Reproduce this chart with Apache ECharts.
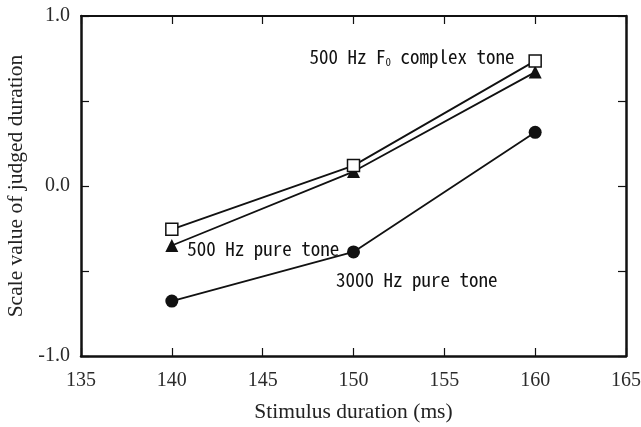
<!DOCTYPE html>
<html>
<head>
<meta charset="utf-8">
<script src="https://cdn.jsdelivr.net/npm/echarts@6/dist/echarts.min.js"></script>
<style>html,body{margin:0;padding:0;background:#fff}#c{width:641px;height:427px}</style>
</head>
<body>
<div id="c"></div>
<script>
const durations = [140, 150, 160];
const complexTone500 = [-0.255, 0.12, 0.736];
const pureTone500 = [-0.35, 0.085, 0.67];
const pureTone3000 = [-0.677, -0.388, 0.316];
const xTicks = [135, 140, 145, 150, 155, 160, 165];
const yTickLabels = ['-1.0', '0.0', '1.0'];

const serif = "'Liberation Serif', 'Times New Roman', serif";
const mono = "'Noto Sans Mono CJK JP', 'DejaVu Sans Mono', monospace";
const ink = '#111';

function pairs(vals, labelIdx, labelCfg) {
  return durations.map((d, i) => {
    const item = { value: [d, vals[i]] };
    if (i === labelIdx) item.label = Object.assign({ show: true }, labelCfg);
    return item;
  });
}

const labelBase = { color: ink, fontFamily: mono, fontSize: 19 };

const chart = echarts.init(document.getElementById('c'), null, { renderer: 'canvas' });
chart.setOption({
  animation: false,
  backgroundColor: '#fff',
  grid: { left: 81, right: 15, top: 16, bottom: 71, containLabel: false, outerBoundsMode: 'none' },
  xAxis: [
    {
      type: 'value', min: 135, max: 165, interval: 5, position: 'bottom',
      name: 'Stimulus duration (ms)', nameLocation: 'middle', nameGap: 45,
      nameTextStyle: { fontFamily: serif, fontSize: 21.5, color: '#222' },
      axisLine: { show: true, onZero: false, lineStyle: { color: ink, width: 2.5 } },
      axisTick: { show: true, inside: true, length: 8, lineStyle: { color: ink, width: 1.2 } },
      axisLabel: { fontFamily: serif, fontSize: 20, color: '#2a2a2a', margin: 15,
        formatter: v => xTicks.includes(v) ? String(v) : '' },
      splitLine: { show: false }
    },
    {
      type: 'value', min: 135, max: 165, interval: 5, position: 'top',
      axisLine: { show: true, onZero: false, lineStyle: { color: ink, width: 2 } },
      axisTick: { show: true, inside: true, length: 8, lineStyle: { color: ink, width: 1.2 } },
      axisLabel: { show: false }, splitLine: { show: false }
    }
  ],
  yAxis: [
    {
      type: 'value', min: -1, max: 1, interval: 0.5, position: 'left',
      name: 'Scale value of judged duration', nameLocation: 'middle', nameGap: 46,
      nameTextStyle: { fontFamily: serif, fontSize: 21.5, color: '#222' },
      axisLine: { show: true, onZero: false, lineStyle: { color: ink, width: 2.5 } },
      axisTick: { show: true, inside: true, length: 8, lineStyle: { color: ink, width: 1.2 } },
      axisLabel: { fontFamily: serif, fontSize: 20, color: '#2a2a2a', margin: 11,
        formatter: v => { const s = v.toFixed(1); return yTickLabels.includes(s) ? s : ''; } },
      splitLine: { show: false }
    },
    {
      type: 'value', min: -1, max: 1, interval: 0.5, position: 'right',
      axisLine: { show: true, onZero: false, lineStyle: { color: ink, width: 2.5 } },
      axisTick: { show: true, inside: true, length: 8, lineStyle: { color: ink, width: 1.2 } },
      axisLabel: { show: false }, splitLine: { show: false }
    }
  ],
  series: [
    {
      name: '3000 Hz pure tone', type: 'line', z: 2,
      data: pairs(pureTone3000, 1, Object.assign({}, labelBase, {
        position: [-11, 34], align: 'left', verticalAlign: 'middle',
        formatter: '3000 Hz pure tone' })),
      symbol: 'circle', symbolSize: 13,
      lineStyle: { color: ink, width: 1.8 },
      itemStyle: { color: ink, borderColor: ink, borderWidth: 0 }
    },
    {
      name: '500 Hz pure tone', type: 'line', z: 3,
      data: pairs(pureTone500, 0, Object.assign({}, labelBase, {
        position: 'right', distance: 9, offset: [0, 3],
        formatter: '500 Hz pure tone' })),
      symbol: 'triangle', symbolSize: 13,
      lineStyle: { color: ink, width: 1.8 },
      itemStyle: { color: ink, borderColor: ink, borderWidth: 0 }
    },
    {
      name: '500 Hz F0 complex tone', type: 'line', z: 4,
      data: pairs(complexTone500, 2, Object.assign({}, labelBase, {
        position: 'left', distance: 14, offset: [0, -4],
        formatter: '500 Hz F{sub|0} complex tone',
        rich: { sub: { fontFamily: mono, fontSize: 11, color: ink, padding: [9, 0, 0, 0] } } })),
      symbol: 'rect', symbolSize: 12,
      lineStyle: { color: ink, width: 1.8 },
      itemStyle: { color: '#fff', borderColor: ink, borderWidth: 1.5 }
    }
  ]
});
</script>
</body>
</html>
